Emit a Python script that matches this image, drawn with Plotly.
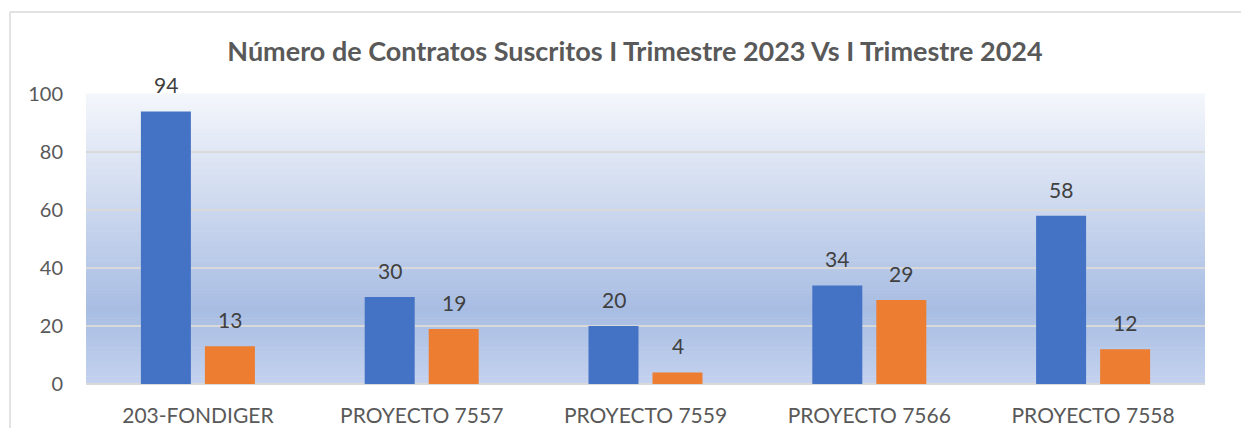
import plotly.graph_objects as go

categories = ["203-FONDIGER", "PROYECTO 7557", "PROYECTO 7559", "PROYECTO 7566", "PROYECTO 7558"]
values_2023 = [94, 30, 20, 34, 58]
values_2024 = [13, 19, 4, 29, 12]
series_names = ["I Trimestre 2023", "I Trimestre 2024"]
title_text = "Número de Contratos Suscritos I Trimestre 2023 Vs I Trimestre 2024"

W, H = 1249, 428
ML, MR, MT, MB = 78, 52, 86, 52
PW = W - ML - MR
PH = H - MT - MB

BLUE = "#4472C4"
ORANGE = "#ED7D31"
FONT = "Lato, 'Open Sans', sans-serif"
TXT = "#595959"

fig = go.Figure()
fig.add_trace(go.Bar(x=categories, y=values_2023, name=series_names[0],
                     marker=dict(color=BLUE, line=dict(width=0)), hoverinfo="skip"))
fig.add_trace(go.Bar(x=categories, y=values_2024, name=series_names[1],
                     marker=dict(color=ORANGE, line=dict(width=0)), hoverinfo="skip"))

# value labels above bars
off = 32
for vals, sh in ((values_2023, -off), (values_2024, off)):
    for c, v in zip(categories, vals):
        fig.add_annotation(x=c, y=v, text=str(v), showarrow=False, xshift=sh,
                           yanchor="bottom", yshift=12,
                           font=dict(family=FONT, size=21, color="#404040"))

# gradient background in plot area
stops = [(0.0, (244, 246, 251)), (0.75, (168, 189, 227)), (1.0, (196, 210, 238))]
def col(t):
    for (t0, c0), (t1, c1) in zip(stops[:-1], stops[1:]):
        if t0 <= t <= t1:
            f = (t - t0) / (t1 - t0) if t1 > t0 else 0
            return "rgb(%d,%d,%d)" % tuple(round(a + (b - a) * f) for a, b in zip(c0, c1))
    return "rgb(%d,%d,%d)" % stops[-1][1]
N = 80
shapes = []
for i in range(N):
    t = (i + 0.5) / N
    shapes.append(dict(type="rect", xref="x domain", yref="y domain",
                       x0=0, x1=1, y0=1 - (i + 1) / N, y1=1 - i / N + 0.002,
                       fillcolor=col(t), line=dict(width=0), layer="below"))

# chart frame (left and top edges)
fx0 = (2 - ML) / PW
fy0 = (H - MB - 4) / PH
shapes.append(dict(type="line", xref="paper", yref="paper", x0=fx0, x1=fx0,
                   y0=-MB / PH - 0.05, y1=fy0, line=dict(color="#D9D9D9", width=1.5)))
shapes.append(dict(type="line", xref="paper", yref="paper", x0=fx0, x1=(W - ML + 10) / PW,
                   y0=fy0, y1=fy0, line=dict(color="#D9D9D9", width=1.5)))

fig.update_layout(
    width=W, height=H,
    margin=dict(l=ML, r=MR, t=MT, b=MB, autoexpand=False),
    paper_bgcolor="white", plot_bgcolor="rgba(0,0,0,0)",
    barmode="group", bargap=0.428, bargroupgap=0.219,
    showlegend=False,
    shapes=shapes,
    title=dict(text="<b>" + title_text + "</b>", x=(627 - ML) / PW, xref="paper", xanchor="center",
               y=1 - 44 / H, yanchor="middle",
               font=dict(family=FONT, size=27, color=TXT)),
    xaxis=dict(showgrid=False, showline=False, ticks="", zeroline=False, automargin=False,
               tickfont=dict(family=FONT, size=21, color=TXT), ticklabelstandoff=17),
    yaxis=dict(range=[0, 100], dtick=20, showgrid=True, gridcolor="#D9D9D9", gridwidth=1.5,
               zeroline=True, zerolinecolor="#D9D9D9", zerolinewidth=1.5, showline=False,
               automargin=False,
               tickfont=dict(family=FONT, size=20, color=TXT), ticklabelstandoff=22),
    font=dict(family=FONT),
)

fig.write_html("out.html")
